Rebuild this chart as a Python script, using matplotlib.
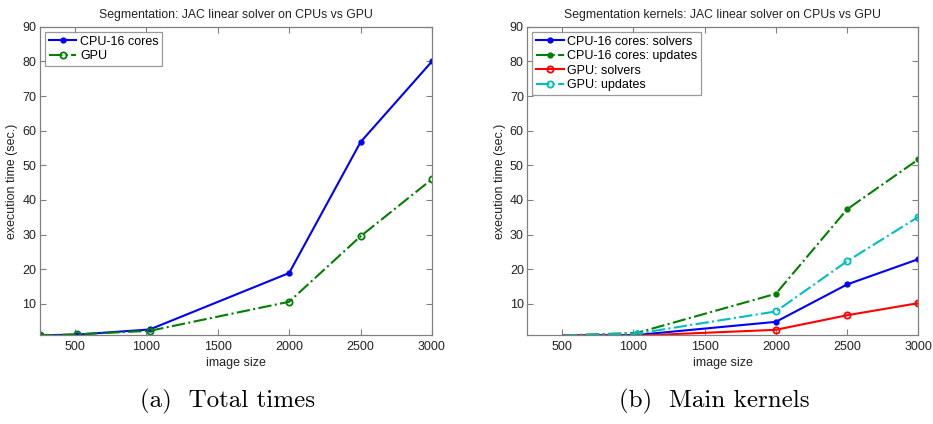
import matplotlib
matplotlib.use("Agg")
import matplotlib.pyplot as plt

# image sizes (pixels per side)
sizes_total = [256, 512, 1024, 2000, 2500, 3000]
cpu_total = [0.9, 1.1, 2.6, 18.9, 56.7, 80.0]
gpu_total = [0.9, 1.2, 2.2, 10.6, 29.5, 46.0]

sizes_kernels = [512, 1024, 2000, 2500, 3000]
cpu_solvers = [0.9, 1.0, 4.8, 15.6, 22.9]
cpu_updates = [0.9, 1.6, 12.9, 37.3, 51.7]
gpu_solvers = [0.9, 0.8, 2.5, 6.7, 10.2]
gpu_updates = [0.9, 1.4, 7.8, 22.3, 35.1]

xticks = [500, 1000, 1500, 2000, 2500, 3000]
yticks = [10, 20, 30, 40, 50, 60, 70, 80, 90]

BLUE = "#0000ff"
GREEN = "#008000"
RED = "#ff0000"
CYAN = "#00bfbf"
AXGREY = "#808080"

plt.rcParams["font.family"] = ["Liberation Sans", "DejaVu Sans"]

fig = plt.figure(figsize=(9.33, 4.24), dpi=100)
ax1 = fig.add_axes([0.0429, 0.2099, 0.4201, 0.727])
ax2 = fig.add_axes([0.5652, 0.2099, 0.4191, 0.727])


def style_axes(ax, title):
    ax.set_xlim(256, 3000)
    ax.set_ylim(1, 90)
    ax.set_xticks(xticks)
    ax.set_yticks(yticks)
    ax.tick_params(direction="in", top=True, right=True, length=4,
                   width=0.8, color=AXGREY, labelsize=9, labelcolor="#222222")
    ax.tick_params(axis="x", pad=4)
    ax.tick_params(axis="y", pad=2.5)
    for sp in ax.spines.values():
        sp.set_color(AXGREY)
        sp.set_linewidth(0.9)
    ax.set_title(title, fontsize=8.8, color="#222222", pad=6)
    ax.set_xlabel("image size", fontsize=9, color="#222222", labelpad=3)
    ax.set_ylabel("execution time (sec.)", fontsize=9, color="#222222",
                  labelpad=3)


def add_legend(ax):
    leg = ax.legend(loc="upper left", fontsize=9, frameon=True,
                    fancybox=False, borderpad=0.3, labelspacing=0.2,
                    handlelength=2.2, handletextpad=0.3, borderaxespad=0.4)
    leg.get_frame().set_edgecolor(AXGREY)
    leg.get_frame().set_linewidth(0.9)


# (a) total times
ax1.plot(sizes_total, cpu_total, "-", color=BLUE, lw=1.5, marker="o",
         ms=3.5, mfc=BLUE, mec=BLUE, label="CPU-16 cores")
ax1.plot(sizes_total, gpu_total, "-.", color=GREEN, lw=1.5, marker="o",
         ms=4.5, mfc="none", mec=GREEN, mew=1.3, label="GPU")
style_axes(ax1, "Segmentation: JAC linear solver on CPUs vs GPU")
add_legend(ax1)

# (b) main kernels -- no marker drawn at the smallest size
skip = slice(1, None)
ax2.plot(sizes_kernels, cpu_solvers, "-", color=BLUE, lw=1.5, marker="o",
         ms=3.5, mfc=BLUE, mec=BLUE, markevery=skip,
         label="CPU-16 cores: solvers")
ax2.plot(sizes_kernels, cpu_updates, "-.", color=GREEN, lw=1.5, marker="o",
         ms=3.5, mfc=GREEN, mec=GREEN, markevery=skip,
         label="CPU-16 cores: updates")
ax2.plot(sizes_kernels, gpu_solvers, "-", color=RED, lw=1.5, marker="o",
         ms=4.5, mfc="none", mec=RED, mew=1.3, markevery=skip,
         label="GPU: solvers")
ax2.plot(sizes_kernels, gpu_updates, "-.", color=CYAN, lw=1.5, marker="o",
         ms=4.5, mfc="none", mec=CYAN, mew=1.3, markevery=skip,
         label="GPU: updates")
style_axes(ax2, "Segmentation kernels: JAC linear solver on CPUs vs GPU")
add_legend(ax2)

# subfigure captions
fig.text(227.5 / 933, 1 - 401 / 424, "(a)  Total times", family="cmr10",
         fontsize=18, ha="center", va="center")
fig.text(714 / 933, 1 - 401 / 424, "(b)  Main kernels", family="cmr10",
         fontsize=18, ha="center", va="center")

fig.savefig("out.png", dpi=100)
